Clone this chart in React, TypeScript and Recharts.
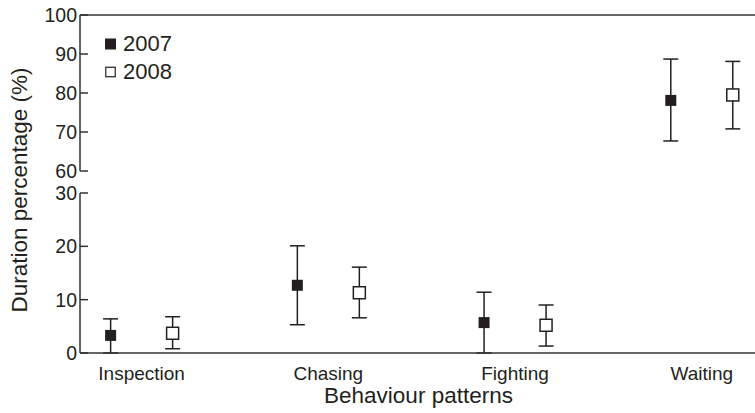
import {
  ScatterChart,
  Scatter,
  XAxis,
  YAxis,
  ErrorBar,
  ReferenceLine,
  Legend,
} from "recharts";

const categories = ["Inspection", "Chasing", "Fighting", "Waiting"];

const mean2007 = [3.3, 12.7, 5.7, 78.1];
const low2007 = [0, 5.3, 0, 67.7];
const high2007 = [6.4, 20.1, 11.4, 88.7];

const mean2008 = [3.7, 11.3, 5.2, 79.5];
const low2008 = [0.8, 6.6, 1.3, 70.8];
const high2008 = [6.8, 16.1, 9.0, 88.1];

const upperTicks = [60, 70, 80, 90, 100];
const lowerTicks = [0, 10, 20, 30];

const FONT = "'Liberation Sans', Arial, sans-serif";
const INK = "#231f20";
const AXIS = "#333";
const DODGE = 0.166;
const X_DOMAIN: [number, number] = [-0.33, 3.285];

function buildRows(mean: number[], low: number[], high: number[], shift: number) {
  return mean.map((m, i) => ({
    x: i + shift,
    y: m,
    err: [m - low[i], high[i] - m],
  }));
}

const rows2007 = buildRows(mean2007, low2007, high2007, -DODGE);
const rows2008 = buildRows(mean2008, low2008, high2008, DODGE);

const upper = (rows: any[]) => rows.filter((r) => r.y >= 60);
const lower = (rows: any[]) => rows.filter((r) => r.y <= 30);

const FilledSquare = (props: any) => (
  <rect x={props.cx - 5.5} y={props.cy - 5.5} width={11} height={11} fill={INK} />
);

const OpenSquare = (props: any) => (
  <rect
    x={props.cx - 6}
    y={props.cy - 6}
    width={12}
    height={12}
    fill="#fff"
    stroke={INK}
    strokeWidth={1.5}
  />
);

const YTick = (props: any) => {
  const { x, y, payload } = props;
  return (
    <g>
      <line x1={x} x2={x + 8} y1={y} y2={y} stroke={AXIS} strokeWidth={1.5} />
      <text
        x={x - 3}
        y={y}
        dy="0.36em"
        textAnchor="end"
        fontSize={19.5}
        fontFamily={FONT}
        fill={INK}
      >
        {payload.value}
      </text>
    </g>
  );
};

const LegendBox = (props: any) => {
  const items = props.payload || [];
  return (
    <div style={{ fontFamily: FONT, fontSize: 22, color: INK, lineHeight: "28px" }}>
      {items.map((it: any, i: number) => (
        <div key={it.value} style={{ display: "flex", alignItems: "center" }}>
          <svg width={19} height={12}>
            {i === 0 ? (
              <rect x={1} y={0.5} width={11} height={11} fill={INK} />
            ) : (
              <rect x={1.75} y={1.25} width={9.5} height={9.5} fill="#fff" stroke={INK} strokeWidth={1.2} />
            )}
          </svg>
          <span>{it.value}</span>
        </div>
      ))}
    </div>
  );
};

export default function App() {
  return (
    <div style={{ position: "absolute", left: 0, top: 0, width: 755, height: 413, background: "#fff" }}>
      <div style={{ position: "absolute", left: 0, top: 0 }}>
        <ScatterChart width={755} height={413} margin={{ top: 15, right: 0, bottom: 242, left: 0 }}>
          <XAxis type="number" dataKey="x" domain={X_DOMAIN} allowDataOverflow hide />
          <YAxis
            type="number"
            dataKey="y"
            domain={[60, 100]}
            ticks={upperTicks}
            allowDataOverflow
            width={80}
            tickSize={0}
            tickMargin={0}
            tickLine={false}
            axisLine={{ stroke: AXIS, strokeWidth: 1.5 }}
            tick={<YTick />}
          />
          <ReferenceLine y={100} stroke={AXIS} strokeWidth={1.5} />
          <Legend
            layout="vertical"
            align="center"
            verticalAlign="middle"
            wrapperStyle={{ left: 104, top: 30, width: 100 }}
            content={<LegendBox />}
          />
          <Scatter name="2007" data={upper(rows2007)} fill={INK} shape={<FilledSquare />} isAnimationActive={false}>
            <ErrorBar dataKey="err" direction="y" width={7.5} stroke={INK} strokeWidth={1.5} />
          </Scatter>
          <Scatter name="2008" data={upper(rows2008)} fill="#fff" shape={<OpenSquare />} isAnimationActive={false}>
            <ErrorBar dataKey="err" direction="y" width={7.5} stroke={INK} strokeWidth={1.5} />
          </Scatter>
        </ScatterChart>
      </div>
      <div style={{ position: "absolute", left: 0, top: 0 }}>
        <ScatterChart width={755} height={413} margin={{ top: 193, right: 0, bottom: 0, left: 0 }}>
          <XAxis
            type="number"
            dataKey="x"
            domain={X_DOMAIN}
            ticks={[0, 1, 2, 3]}
            allowDataOverflow
            height={60}
            tickSize={0}
            tickMargin={14}
            tickLine={false}
            axisLine={{ stroke: AXIS, strokeWidth: 1.5 }}
            tickFormatter={(v: number) => categories[v] ?? ""}
            tick={{ fontSize: 19, fontFamily: FONT, fill: INK }}
            label={{
              content: (p: any) => {
                const vb = p.viewBox;
                return (
                  <text
                    x={vb.x + vb.width / 2 + 1}
                    y={vb.y + 50}
                    textAnchor="middle"
                    fontSize={22.5}
                    fontFamily={FONT}
                    fill={INK}
                  >
                    Behaviour patterns
                  </text>
                );
              },
            }}
          />
          <YAxis
            type="number"
            dataKey="y"
            domain={[0, 30]}
            ticks={lowerTicks}
            allowDataOverflow
            width={80}
            tickSize={0}
            tickMargin={0}
            tickLine={false}
            axisLine={{ stroke: AXIS, strokeWidth: 1.5 }}
            tick={<YTick />}
            label={{
              content: () => (
                <text
                  transform="translate(27,190) rotate(-90)"
                  textAnchor="middle"
                  fontSize={22.5}
                  fontFamily={FONT}
                  fill={INK}
                >
                  Duration percentage (%)
                </text>
              ),
            }}
          />
          <Scatter name="2007" data={lower(rows2007)} fill={INK} shape={<FilledSquare />} isAnimationActive={false}>
            <ErrorBar dataKey="err" direction="y" width={7.5} stroke={INK} strokeWidth={1.5} />
          </Scatter>
          <Scatter name="2008" data={lower(rows2008)} fill="#fff" shape={<OpenSquare />} isAnimationActive={false}>
            <ErrorBar dataKey="err" direction="y" width={7.5} stroke={INK} strokeWidth={1.5} />
          </Scatter>
        </ScatterChart>
      </div>
    </div>
  );
}
